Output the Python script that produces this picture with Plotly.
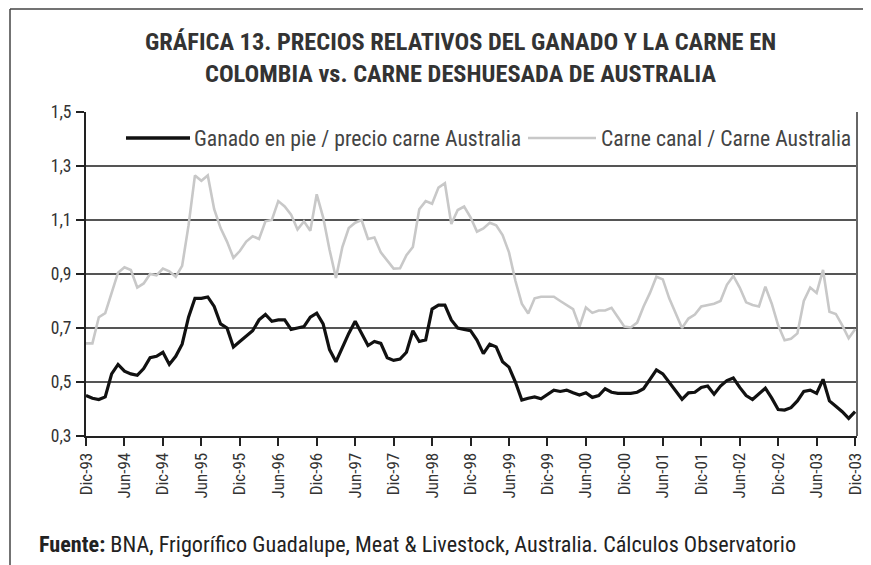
import plotly.graph_objects as go

# Monthly observations, Dic-93 .. Dic-03 (121 months)
months = list(range(121))
ganado_pie = [
    0.45, 0.44, 0.435, 0.445, 0.53, 0.565, 0.54, 0.53, 0.525, 0.55,
    0.59, 0.595, 0.61, 0.565, 0.595, 0.64, 0.74, 0.81, 0.81, 0.815,
    0.78, 0.715, 0.70, 0.63, 0.65, 0.67, 0.69, 0.73, 0.75, 0.725,
    0.73, 0.73, 0.695, 0.70, 0.705, 0.74, 0.755, 0.715, 0.62, 0.575,
    0.63, 0.68, 0.725, 0.68, 0.635, 0.65, 0.643, 0.59, 0.58, 0.585,
    0.61, 0.69, 0.65, 0.656, 0.77, 0.785, 0.785, 0.73, 0.70, 0.695,
    0.69, 0.655, 0.605, 0.64, 0.63, 0.575, 0.555, 0.50, 0.433, 0.44,
    0.445, 0.438, 0.455, 0.47, 0.465, 0.47, 0.46, 0.452, 0.46, 0.443,
    0.45, 0.475, 0.462, 0.458, 0.458, 0.458, 0.462, 0.475, 0.51, 0.545,
    0.53, 0.50, 0.47, 0.436, 0.46, 0.462, 0.48, 0.485, 0.455, 0.485,
    0.505, 0.515, 0.48, 0.45, 0.435, 0.455, 0.477, 0.44, 0.398, 0.396,
    0.405, 0.43, 0.465, 0.47, 0.458, 0.51, 0.43, 0.41, 0.39, 0.365,
    0.39,
]
carne_canal = [
    0.643, 0.643, 0.74, 0.755, 0.83, 0.905, 0.925, 0.915, 0.85, 0.865,
    0.90, 0.895, 0.92, 0.91, 0.89, 0.93, 1.08, 1.265, 1.245, 1.265,
    1.14, 1.07, 1.02, 0.96, 0.985, 1.02, 1.04, 1.03, 1.095, 1.10,
    1.17, 1.15, 1.12, 1.065, 1.095, 1.06, 1.195, 1.11, 0.99, 0.885,
    1.00, 1.07, 1.09, 1.10, 1.03, 1.035, 0.98, 0.95, 0.92, 0.921,
    0.97, 1.00, 1.14, 1.17, 1.16, 1.22, 1.236, 1.085, 1.137, 1.15,
    1.11, 1.057, 1.069, 1.09, 1.08, 1.044, 0.98, 0.875, 0.79, 0.754,
    0.81, 0.816, 0.816, 0.816, 0.80, 0.785, 0.77, 0.705, 0.776, 0.756,
    0.765, 0.765, 0.775, 0.74, 0.705, 0.702, 0.72, 0.78, 0.83, 0.89,
    0.88, 0.81, 0.754, 0.70, 0.735, 0.75, 0.78, 0.785, 0.79, 0.80,
    0.86, 0.893, 0.85, 0.795, 0.785, 0.78, 0.853, 0.79, 0.71, 0.655,
    0.66, 0.68, 0.80, 0.85, 0.83, 0.915, 0.76, 0.752, 0.71, 0.662,
    0.695,
]
tick_months = list(range(0, 121, 6))
tick_labels = [
    "Dic-93", "Jun-94", "Dic-94", "Jun-95", "Dic-95", "Jun-96", "Dic-96",
    "Jun-97", "Dic-97", "Jun-98", "Dic-98", "Jun-99", "Dic-99", "Jun-00",
    "Dic-00", "Jun-01", "Dic-01", "Jun-02", "Dic-02", "Jun-03", "Dic-03",
]
y_ticks = [0.3, 0.5, 0.7, 0.9, 1.1, 1.3, 1.5]
y_tick_labels = ["0,3", "0,5", "0,7", "0,9", "1,1", "1,3", "1,5"]
series_names = ["Ganado en pie / precio carne Australia", "Carne canal / Carne Australia"]
series_colors = ["#111111", "#c8c8c8"]

NARROW = "Liberation Sans Narrow, Arial Narrow, Roboto Condensed, sans-serif"

# plot area in screen pixels (page has an 8px body margin)
PX0, PX1, PY0, PY1 = 86, 857, 112, 436
def px(sx):
    return (sx - PX0) / (PX1 - PX0)
def py(sy):
    return (PY1 - sy) / (PY1 - PY0)

fig = go.Figure()
fig.add_trace(go.Scatter(x=months, y=ganado_pie, mode="lines", name=series_names[0],
                         line=dict(color=series_colors[0], width=3.2)))
fig.add_trace(go.Scatter(x=months, y=carne_canal, mode="lines", name=series_names[1],
                         line=dict(color=series_colors[1], width=2.6)))

annotations = [
    dict(text="<b>GRÁFICA 13. PRECIOS RELATIVOS DEL GANADO Y LA CARNE EN</b>",
         xref="paper", yref="paper", x=px(460), y=py(42), xanchor="center",
         yanchor="middle", showarrow=False, font=dict(size=24.4, color="#333333")),
    dict(text="<b>COLOMBIA vs. CARNE DESHUESADA DE AUSTRALIA</b>",
         xref="paper", yref="paper", x=px(460), y=py(74), xanchor="center",
         yanchor="middle", showarrow=False, font=dict(size=24.4, color="#333333")),
    dict(text="<b>Fuente:</b> BNA, Frigorífico Guadalupe, Meat &amp; Livestock, Australia. Cálculos Observatorio",
         xref="paper", yref="paper", x=px(37), y=py(544), xanchor="left",
         yanchor="middle", showarrow=False, font=dict(size=22.2, color="#222222")),
    # legend texts
    dict(text=series_names[0], xref="paper", yref="paper", x=px(192), y=py(138),
         xanchor="left", yanchor="middle", showarrow=False,
         font=dict(size=21.7, color="#444444")),
    dict(text=series_names[1], xref="paper", yref="paper", x=px(599), y=py(138),
         xanchor="left", yanchor="middle", showarrow=False,
         font=dict(size=21.7, color="#444444")),
]

shapes = [
    # right border of plot area
    dict(type="line", xref="paper", yref="paper", x0=1, x1=1, y0=0, y1=1,
         line=dict(color="#666", width=2)),
    # outer frame
    dict(type="line", xref="paper", yref="paper", x0=px(10), x1=px(875),
         y0=py(9), y1=py(9), line=dict(color="#444", width=1.5)),
    dict(type="line", xref="paper", yref="paper", x0=px(10), x1=px(10),
         y0=py(9), y1=py(580), line=dict(color="#444", width=1.5)),
    # legend samples
    dict(type="line", xref="paper", yref="paper", x0=px(126), x1=px(190),
         y0=py(138), y1=py(138), line=dict(color=series_colors[0], width=3.5)),
    dict(type="line", xref="paper", yref="paper", x0=px(528), x1=px(596),
         y0=py(138), y1=py(138), line=dict(color=series_colors[1], width=2.6)),
]

fig.update_layout(
    width=863, height=557,
    margin=dict(l=PX0 - 8, r=871 - PX1, t=PY0 - 8, b=565 - PY1),
    paper_bgcolor="white", plot_bgcolor="white",
    font=dict(family=NARROW, color="#333333"),
    showlegend=False,
    xaxis=dict(range=[0, 120.3], tickmode="array", tickvals=tick_months, ticktext=tick_labels,
               tickangle=-90, ticks="outside", ticklen=8, tickcolor="#222", tickwidth=1.5,
               showgrid=False, showline=True, linecolor="#222", linewidth=2,
               mirror=False, zeroline=False, automargin=False,
               tickfont=dict(size=17, color="#333")),
    yaxis=dict(range=[0.3, 1.5], tickmode="array", tickvals=y_ticks, ticktext=y_tick_labels,
               ticks="outside", ticklen=8, tickcolor="#222", tickwidth=1.5,
               showgrid=True, gridcolor="#555555", gridwidth=2,
               showline=True, linecolor="#222", linewidth=2, zeroline=False,
               ticklabelstandoff=1, automargin=False,
               tickfont=dict(size=17.5, color="#333")),
    annotations=annotations,
    shapes=shapes,
)

fig.write_html("out.html")
